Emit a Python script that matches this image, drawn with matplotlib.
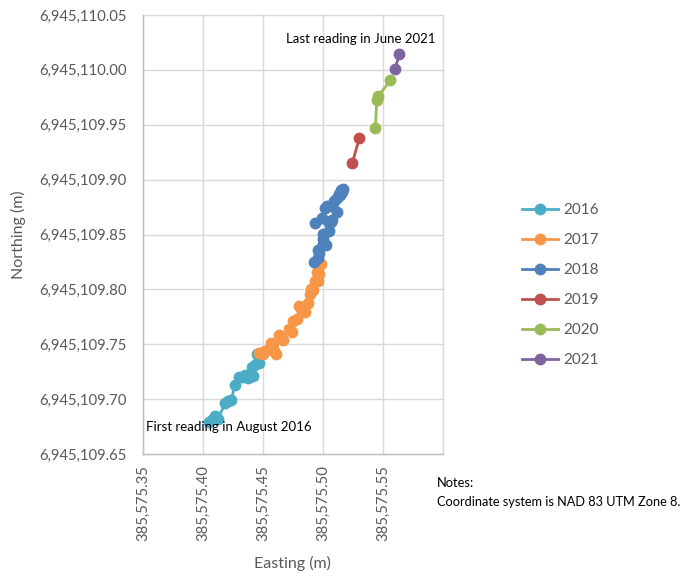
import matplotlib
matplotlib.use("Agg")
from matplotlib import pyplot as plt
from matplotlib.ticker import FuncFormatter, FixedLocator
from matplotlib.lines import Line2D

# survey readings per year (easting, northing in metres)
e_2016 = [385575.4052, 385575.4081, 385575.4096, 385575.4121, 385575.4187, 385575.4212,
          385575.4234, 385575.4267, 385575.4296, 385575.4336, 385575.4350, 385575.4376,
          385575.4394, 385575.4416, 385575.4408, 385575.4441, 385575.4470, 385575.4452]
n_2016 = [6945109.6795, 6945109.6822, 6945109.6849, 6945109.6815, 6945109.6966, 6945109.6983,
          6945109.6989, 6945109.7130, 6945109.7200, 6945109.7200, 6945109.7220, 6945109.7190,
          6945109.7217, 6945109.7207, 6945109.7290, 6945109.7317, 6945109.7331, 6945109.7408]

e_2017 = [385575.4467, 385575.4496, 385575.4520, 385575.4568, 385575.4594, 385575.4612,
          385575.4634, 385575.4670, 385575.4714, 385575.4743, 385575.4750, 385575.4786,
          385575.4823, 385575.4852, 385575.4804, 385575.4877, 385575.4888, 385575.4903,
          385575.4917, 385575.4932, 385575.4961, 385575.4946, 385575.4968, 385575.4986]
n_2017 = [6945109.7418, 6945109.7408, 6945109.7440, 6945109.7509, 6945109.7442, 6945109.7408,
          6945109.7585, 6945109.7542, 6945109.7642, 6945109.7609, 6945109.7716, 6945109.7726,
          6945109.7793, 6945109.7793, 6945109.7853, 6945109.7876, 6945109.7960, 6945109.8000,
          6945109.7993, 6945109.8077, 6945109.8074, 6945109.8161, 6945109.8144, 6945109.8228]

e_2018 = [385575.4921, 385575.4961, 385575.4968, 385575.4957, 385575.4997, 385575.5026,
          385575.5004, 385575.4997, 385575.5048, 385575.4993, 385575.4932, 385575.5066,
          385575.5077, 385575.5113, 385575.5033, 385575.5019, 385575.5077, 385575.5095,
          385575.5113, 385575.5132, 385575.5142, 385575.5161, 385575.5150, 385575.5168]
n_2018 = [6945109.8251, 6945109.8284, 6945109.8328, 6945109.8361, 6945109.8412, 6945109.8402,
          6945109.8462, 6945109.8505, 6945109.8529, 6945109.8646, 6945109.8602, 6945109.8612,
          6945109.8636, 6945109.8706, 6945109.8756, 6945109.8746, 6945109.8763, 6945109.8803,
          6945109.8830, 6945109.8870, 6945109.8863, 6945109.8890, 6945109.8904, 6945109.8914]

e_2019 = [385575.5244, 385575.5302]
n_2019 = [6945109.9151, 6945109.9376]

e_2020 = [385575.5437, 385575.5448, 385575.5462, 385575.5560]
n_2020 = [6945109.9473, 6945109.9727, 6945109.9760, 6945109.9904]

e_2021 = [385575.5600, 385575.5637]
n_2021 = [6945110.0011, 6945110.0142]

years = ["2016", "2017", "2018", "2019", "2020", "2021"]
eastings = [e_2016, e_2017, e_2018, e_2019, e_2020, e_2021]
northings = [n_2016, n_2017, n_2018, n_2019, n_2020, n_2021]
colors = ["#4BACC6", "#F79646", "#4F81BD", "#C0504D", "#9BBB59", "#8064A2"]

x_ticks = [385575.35, 385575.40, 385575.45, 385575.50, 385575.55]
y_ticks = [6945109.65, 6945109.70, 6945109.75, 6945109.80, 6945109.85,
           6945109.90, 6945109.95, 6945110.00, 6945110.05]

plt.rcParams["font.family"] = ["Lato", "DejaVu Sans"]
grey_txt = "#595959"

fig = plt.figure(figsize=(6.85, 5.77), dpi=100)
ax = fig.add_axes([143 / 685, 1 - 454 / 577, (443 - 143) / 685, (454 - 15) / 577])

for e, n, c in zip(eastings, northings, colors):
    ax.plot(e, n, color=c, lw=2, marker="o", ms=7.5, mec=c, mfc=c, zorder=3)

ax.set_xlim(385575.35, 385575.60)
ax.set_ylim(6945109.65, 6945110.05)
ax.xaxis.set_major_locator(FixedLocator(x_ticks + [385575.60]))
ax.yaxis.set_major_locator(FixedLocator(y_ticks))
ax.xaxis.set_major_formatter(FuncFormatter(lambda v, p: "" if v > 385575.575 else "{:,.2f}".format(v)))
ax.yaxis.set_major_formatter(FuncFormatter(lambda v, p: "{:,.2f}".format(v)))
ax.grid(True, color="#D9D9D9", lw=1)
for gl in ax.get_xgridlines() + ax.get_ygridlines():
    gl.set_clip_on(False)
ax.set_axisbelow(True)
for s in ["top", "right"]:
    ax.spines[s].set_visible(False)
for s in ["left", "bottom"]:
    ax.spines[s].set_color("#BFBFBF")
    ax.spines[s].set_linewidth(1)
ax.tick_params(axis="both", length=0, labelsize=10.7, labelcolor=grey_txt)
ax.tick_params(axis="y", pad=12)
ax.tick_params(axis="x", labelrotation=90, pad=8)

ax.text(385575.5315, 6945110.028, "Last reading in June 2021", fontsize=9.5, color="black",
        ha="center", va="center", zorder=5)
ax.text(385575.4215, 6945109.675, "First reading in August 2016", fontsize=9.5, color="black",
        ha="center", va="center", zorder=5)

fig.text(18 / 685, 1 - 235 / 577, "Northing (m)", rotation=90, fontsize=11.5, color=grey_txt,
         ha="center", va="center")
fig.text(292 / 685, 1 - 563 / 577, "Easting (m)", fontsize=11.5, color=grey_txt,
         ha="center", va="center")
fig.text(437 / 685, 1 - 483 / 577, "Notes:", fontsize=9.3, color="black", ha="left", va="center")
fig.text(437 / 685, 1 - 502 / 577, "Coordinate system is NAD 83 UTM Zone 8.", fontsize=9.2,
         color="black", ha="left", va="center")

handles = [Line2D([0], [0], color=c, lw=2, marker="o", ms=7.5) for c in colors]
leg = fig.legend(handles, years, loc="center left", bbox_to_anchor=(508 / 685, 1 - 285 / 577),
                 frameon=False, fontsize=11, handlelength=2.4, handletextpad=0.3,
                 labelspacing=1.05, labelcolor=grey_txt)

fig.savefig("out.png", dpi=100)
